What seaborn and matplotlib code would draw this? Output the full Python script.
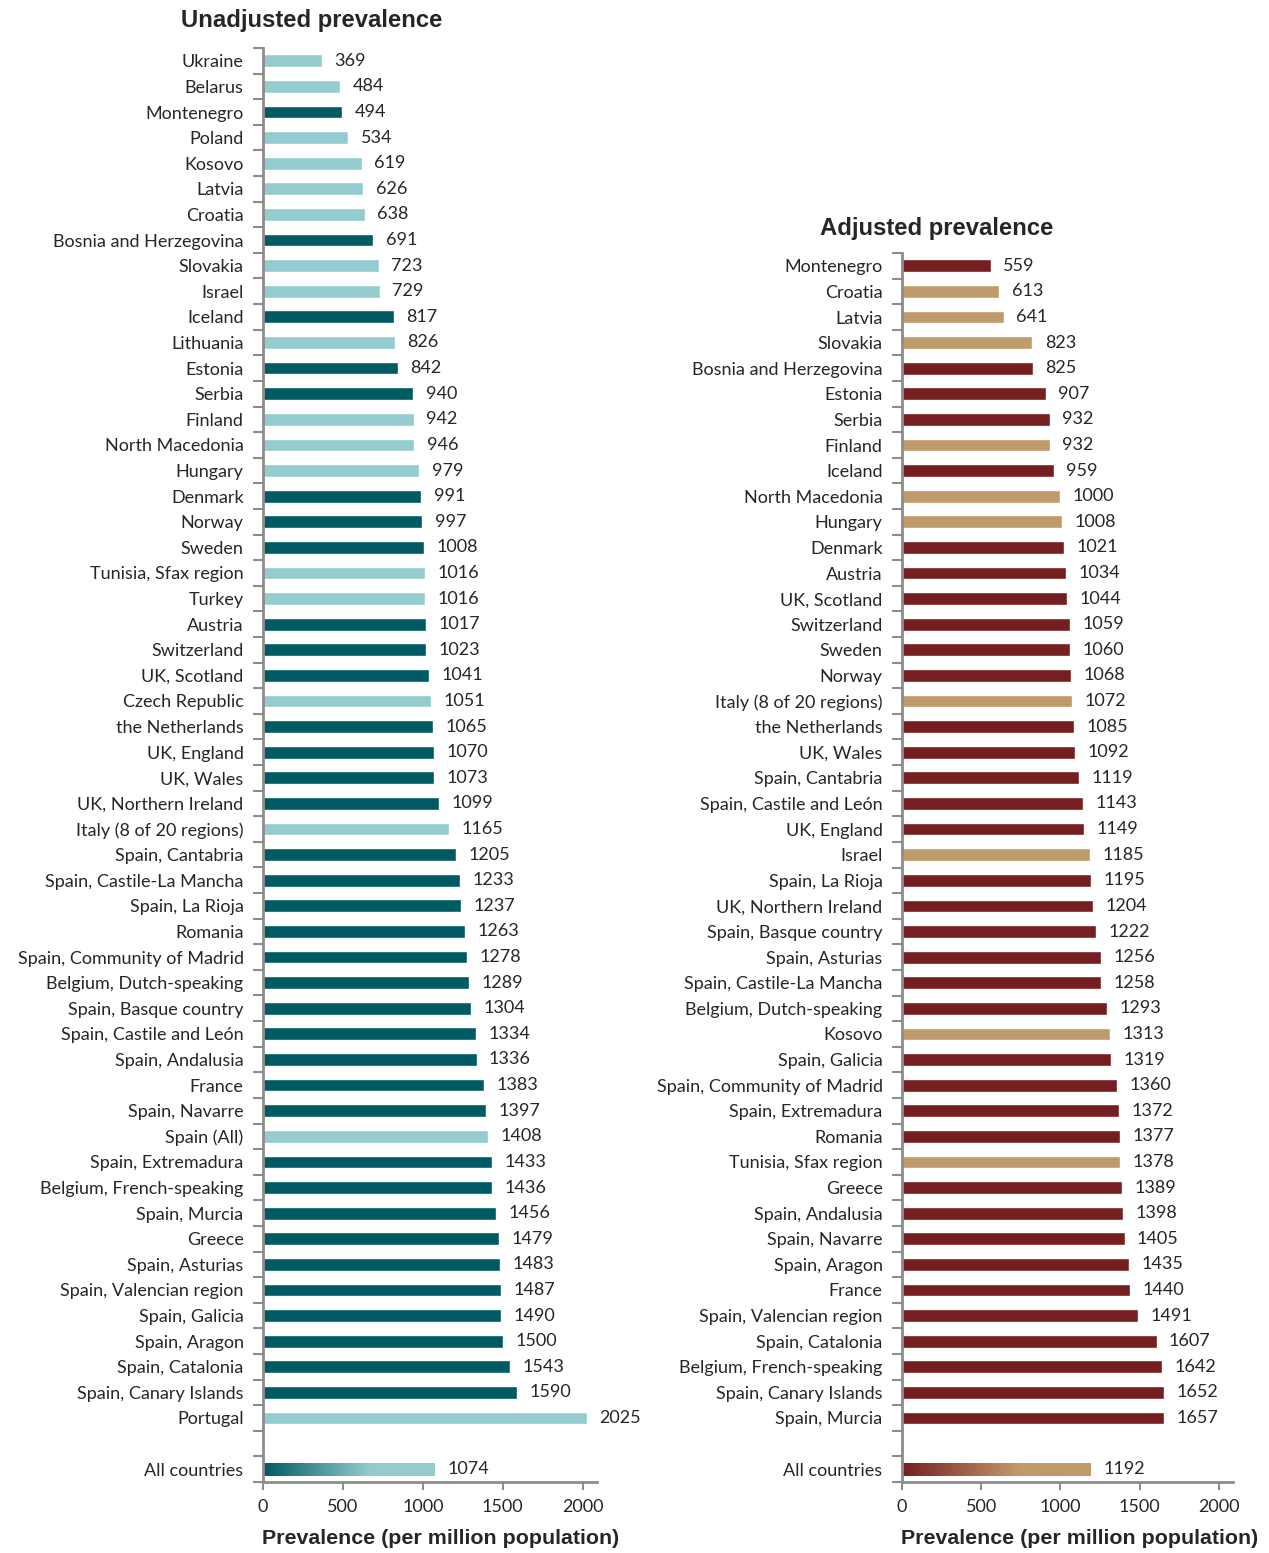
import seaborn as sns
import matplotlib.pyplot as plt
import pandas as pd
import numpy as np
from matplotlib.colors import LinearSegmentedColormap
from matplotlib.ticker import FixedLocator

sns.set_style("white")
plt.rcParams['font.family'] = ['Lato', 'DejaVu Sans']

# Unadjusted prevalence (per million population)
unadj_names = ["Ukraine", "Belarus", "Montenegro", "Poland", "Kosovo", "Latvia", "Croatia",
               "Bosnia and Herzegovina", "Slovakia", "Israel", "Iceland", "Lithuania", "Estonia",
               "Serbia", "Finland", "North Macedonia", "Hungary", "Denmark", "Norway", "Sweden",
               "Tunisia, Sfax region", "Turkey", "Austria", "Switzerland", "UK, Scotland",
               "Czech Republic", "the Netherlands", "UK, England", "UK, Wales",
               "UK, Northern Ireland", "Italy (8 of 20 regions)", "Spain, Cantabria",
               "Spain, Castile-La Mancha", "Spain, La Rioja", "Romania",
               "Spain, Community of Madrid", "Belgium, Dutch-speaking", "Spain, Basque country",
               "Spain, Castile and León", "Spain, Andalusia", "France", "Spain, Navarre",
               "Spain (All)", "Spain, Extremadura", "Belgium, French-speaking", "Spain, Murcia",
               "Greece", "Spain, Asturias", "Spain, Valencian region", "Spain, Galicia",
               "Spain, Aragon", "Spain, Catalonia", "Spain, Canary Islands", "Portugal"]
unadj_values = [369, 484, 494, 534, 619, 626, 638, 691, 723, 729, 817, 826, 842, 940, 942, 946,
                979, 991, 997, 1008, 1016, 1016, 1017, 1023, 1041, 1051, 1065, 1070, 1073, 1099,
                1165, 1205, 1233, 1237, 1263, 1278, 1289, 1304, 1334, 1336, 1383, 1397, 1408,
                1433, 1436, 1456, 1479, 1483, 1487, 1490, 1500, 1543, 1590, 2025]
unadj_group = ["L", "L", "D", "L", "L", "L", "L", "D", "L", "L", "D", "L", "D", "D", "L", "L",
               "L", "D", "D", "D", "L", "L", "D", "D", "D", "L", "D", "D", "D", "D", "L", "D",
               "D", "D", "D", "D", "D", "D", "D", "D", "D", "D", "L", "D", "D", "D", "D", "D",
               "D", "D", "D", "D", "D", "L"]
unadj_all = 1074

# Adjusted prevalence
adj_names = ["Montenegro", "Croatia", "Latvia", "Slovakia", "Bosnia and Herzegovina", "Estonia",
             "Serbia", "Finland", "Iceland", "North Macedonia", "Hungary", "Denmark", "Austria",
             "UK, Scotland", "Switzerland", "Sweden", "Norway", "Italy (8 of 20 regions)",
             "the Netherlands", "UK, Wales", "Spain, Cantabria", "Spain, Castile and León",
             "UK, England", "Israel", "Spain, La Rioja", "UK, Northern Ireland",
             "Spain, Basque country", "Spain, Asturias", "Spain, Castile-La Mancha",
             "Belgium, Dutch-speaking", "Kosovo", "Spain, Galicia", "Spain, Community of Madrid",
             "Spain, Extremadura", "Romania", "Tunisia, Sfax region", "Greece", "Spain, Andalusia",
             "Spain, Navarre", "Spain, Aragon", "France", "Spain, Valencian region",
             "Spain, Catalonia", "Belgium, French-speaking", "Spain, Canary Islands",
             "Spain, Murcia"]
adj_values = [559, 613, 641, 823, 825, 907, 932, 932, 959, 1000, 1008, 1021, 1034, 1044, 1059,
              1060, 1068, 1072, 1085, 1092, 1119, 1143, 1149, 1185, 1195, 1204, 1222, 1256, 1258,
              1293, 1313, 1319, 1360, 1372, 1377, 1378, 1389, 1398, 1405, 1435, 1440, 1491, 1607,
              1642, 1652, 1657]
adj_group = ["D", "L", "L", "L", "D", "D", "D", "L", "D", "L", "L", "D", "D", "D", "D", "D",
             "D", "L", "D", "D", "D", "D", "D", "L", "D", "D", "D", "D", "D", "D", "L", "D", "D",
             "D", "D", "L", "D", "D", "D", "D", "D", "D", "D", "D", "D", "D"]
adj_all = 1192

TEAL_D, TEAL_L = "#005A64", "#93CBCE"
RED_D, RED_L = "#761F21", "#C19A6B"
AXIS_GRAY = "#8C8C8C"
FS = 13.0

fig = plt.figure(figsize=(12.69, 15.53), dpi=100)
H = 1553.0
W = 1269.0
ax1 = fig.add_axes([263 / W, 1 - 1482 / H, (597 - 263) / W, (1482 - 48) / H])
ax2 = fig.add_axes([902 / W, 1 - 1482 / H, (1233 - 902) / W, (1482 - 253) / H])


def draw_panel(ax, names, values, groups, all_val, dark, light):
    df = pd.DataFrame({"name": names + ["All countries"],
                       "value": values + [all_val],
                       "group": groups + ["A"]})
    order = names + [" ", "All countries"]
    sns.barplot(data=df, y="name", x="value", hue="group", order=order,
                palette={"D": dark, "L": light, "A": light}, dodge=False,
                width=0.5, legend=False, ax=ax, orient="h", saturation=1)
    n = len(order)
    ax.set_xlim(0, 2090)
    ax.set_ylim(n - 0.5, -0.5)
    ax.set_xlabel("")
    ax.set_ylabel("")
    ax.set_xticks([0, 500, 1000, 1500, 2000])
    ax.tick_params(axis="x", labelsize=FS, length=6, width=1.5, color=AXIS_GRAY,
                   direction="out", pad=6, bottom=True)
    ax.tick_params(axis="y", which="major", labelsize=FS, length=0, pad=14)
    ax.yaxis.set_minor_locator(FixedLocator(np.arange(-0.5, n, 1.0)))
    ax.tick_params(axis="y", which="minor", length=7, width=1.5, color=AXIS_GRAY,
                   direction="out", left=True)
    for s in ["top", "right"]:
        ax.spines[s].set_visible(False)
    for s in ["left", "bottom"]:
        ax.spines[s].set_color(AXIS_GRAY)
        ax.spines[s].set_linewidth(2)
    for cont in ax.containers:
        ax.bar_label(cont, fmt="%d", padding=9, fontsize=FS)
    # gradient fill for the "All countries" bar
    idx = order.index("All countries")
    cmap = LinearSegmentedColormap.from_list("g", [(0, dark), (0.62, light), (1, light)])
    for p in ax.patches:
        if abs(p.get_y() + p.get_height() / 2 - idx) < 0.01 and p.get_width() > 0:
            x0, y0 = p.get_x(), p.get_y()
            w, h = p.get_width(), p.get_height()
            grad = np.linspace(0, 1, 256).reshape(1, -1)
            im = ax.imshow(grad, cmap=cmap, aspect="auto",
                           extent=[x0, x0 + w, y0 + h, y0], zorder=p.get_zorder() + 0.1)
            im.set_clip_path(p)
            p.set_facecolor("none")
    ax.set_xlim(0, 2090)
    ax.set_ylim(n - 0.5, -0.5)


draw_panel(ax1, unadj_names, unadj_values, unadj_group, unadj_all, TEAL_D, TEAL_L)
draw_panel(ax2, adj_names, adj_values, adj_group, adj_all, RED_D, RED_L)

tfont = dict(family="Liberation Sans", fontweight="bold")
fig.text(312 / W, 1 - 21 / H, "Unadjusted prevalence", ha="center", va="center",
         fontsize=17.2, **tfont)
fig.text(937 / W, 1 - 228 / H, "Adjusted prevalence", ha="center", va="center",
         fontsize=17.2, **tfont)
fig.text(441 / W, 1 - 1539 / H, "Prevalence (per million population)", ha="center",
         va="center", fontsize=15.4, **tfont)
fig.text(1080 / W, 1 - 1539 / H, "Prevalence (per million population)", ha="center",
         va="center", fontsize=15.4, **tfont)

plt.savefig("out.png", dpi=100)
